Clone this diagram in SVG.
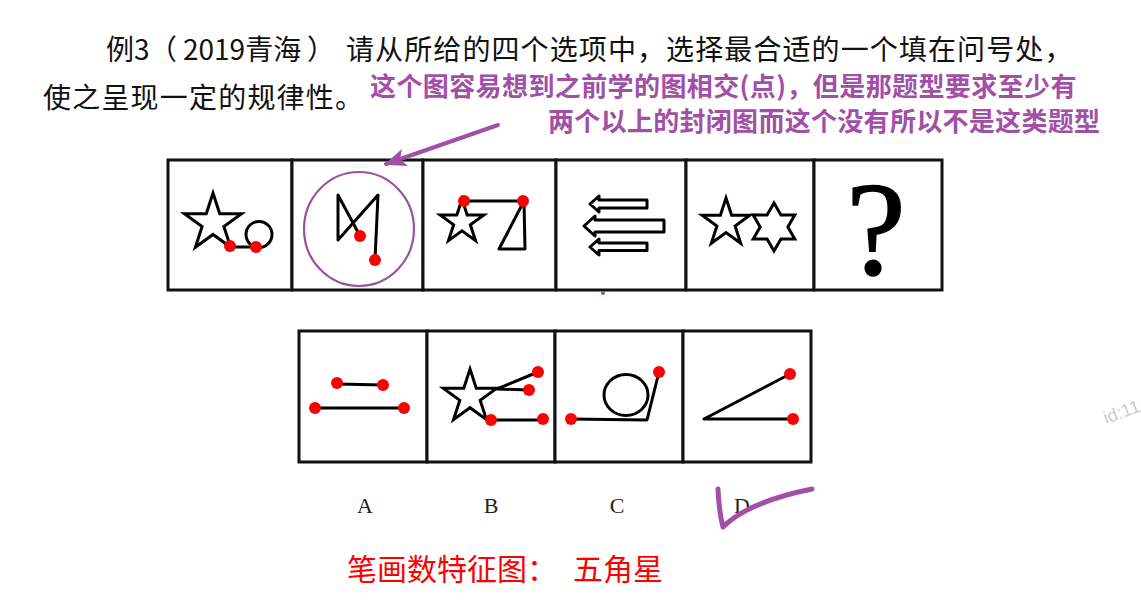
<svg xmlns="http://www.w3.org/2000/svg" xmlns:xlink="http://www.w3.org/1999/xlink" width="1141" height="602" viewBox="0 0 1141 602">
  <style>
    .box { fill: #ffffff; stroke: #111111; stroke-width: 3; }
    .fig { fill: none; stroke: #000000; stroke-width: 3; stroke-linejoin: round; stroke-linecap: round; }
    .figw { fill: #ffffff; stroke: #000000; stroke-width: 3; stroke-linejoin: miter; }
    .nss { vector-effect: non-scaling-stroke; }
    .dot { fill: #ff0000; }
    .cjk { font-family: "Noto Sans CJK SC", "Noto Sans", sans-serif; }
    .q { font-family: "Liberation Serif", serif; fill: #222222; font-size: 22px; text-anchor: middle; }
    .purple { fill: #a24fa8; font-weight: bold; font-size: 26px; }
  </style>
  <defs>
    <path id="star5" class="nss" d="M0,-100 L22.45,-30.90 L95.11,-30.90 L36.33,11.80 L58.78,80.90 L0,38.2 L-58.78,80.90 L-36.33,11.80 L-95.11,-30.90 L-22.45,-30.90 Z"/>
    <path id="star6" class="nss" d="M0,-100 L28.87,-50 L86.60,-50 L57.74,0 L86.60,50 L28.87,50 L0,100 L-28.87,50 L-86.60,50 L-57.74,0 L-86.60,-50 L-28.87,-50 Z"/>
    <marker id="arrowP" markerUnits="userSpaceOnUse" markerWidth="24" markerHeight="24" refX="20" refY="10" orient="auto" viewBox="0 0 24 20">
      <path d="M0,1 L22,10 L0,19 L5,10 Z" fill="#a24fa8"/>
    </marker>
  </defs>
  <rect width="1141" height="602" fill="#ffffff"/>

  <g id="title">
    <text class="cjk" y="60" font-size="28" fill="#111111"><tspan x="106">例3</tspan><tspan x="149">（</tspan><tspan x="183">2019青海</tspan><tspan x="307">）</tspan><tspan x="346" letter-spacing="1.1">请从所给的四个选项中，选择最合适的一个填在问号处，</tspan></text>
    <text class="cjk" x="43" y="108" font-size="28" letter-spacing="1.2" fill="#111111">使之呈现一定的规律性。</text>
  </g>

  <g id="note">
    <text class="cjk purple" x="370" y="96" letter-spacing="0.4">这个图容易想到之前学的图相交(点)，但是那题型要求至少有</text>
    <text class="cjk purple" x="548" y="131" letter-spacing="0.3">两个以上的封闭图而这个没有所以不是这类题型</text>
  </g>

  <g id="p1">
    <rect class="box" x="168" y="160" width="124" height="130"/>
    <use href="#star5" class="figw" transform="translate(213,223) scale(0.3)"/>
    <path class="fig" d="M231,247 L259,247"/>
    <circle class="fig" cx="259" cy="234.5" r="13"/>
    <circle class="dot" cx="230" cy="246" r="6"/>
    <circle class="dot" cx="256" cy="247" r="6"/>
  </g>

  <g id="p2">
    <rect class="box" x="292" y="160" width="131" height="130"/>
    <path class="fig" d="M360,236 L338,195 L338,240 L378,195 L375,260"/>
    <circle class="dot" cx="360" cy="236" r="6"/>
    <circle class="dot" cx="375" cy="260" r="6"/>
    <ellipse cx="359" cy="229" rx="55" ry="57" fill="none" stroke="#9c4fa4" stroke-width="2.2"/>
  </g>

  <g id="p3">
    <rect class="box" x="423" y="160" width="133" height="130"/>
    <use href="#star5" class="figw" transform="translate(462,222) scale(0.23)"/>
    <path class="fig" d="M464,201 L524,201"/>
    <path class="fig" d="M524,201 L525,249 L499,249 Z"/>
    <circle class="dot" cx="464" cy="201" r="6"/>
    <circle class="dot" cx="523" cy="201" r="6"/>
  </g>

  <g id="p4">
    <rect class="box" x="556" y="160" width="130" height="130"/>
    <path class="fig" d="M590,204 L599,196 L599,200 L647,200 L647,208 L599,208 L599,212 Z"/>
    <path class="fig" d="M584,226 L595,216 L595,220 L664,220 L664,232 L595,232 L595,236 Z"/>
    <path class="fig" d="M590,247 L599,239 L599,243 L647,243 L647,250.5 L599,250.5 L599,255 Z"/>
  </g>

  <g id="p5">
    <rect class="box" x="686" y="160" width="128" height="130"/>
    <use href="#star5" class="figw" transform="translate(726,223) scale(0.25)"/>
    <use href="#star6" class="figw" transform="translate(774,227) scale(0.24)"/>
  </g>

  <g id="p6">
    <rect class="box" x="814" y="160" width="128" height="130"/>
    <text x="876" y="274" font-family="Liberation Serif, serif" font-size="134" text-anchor="middle" fill="#000000" stroke="#000000" stroke-width="1.5">?</text>
  </g>

  <circle cx="603" cy="293" r="2" fill="#a24fa8"/>

  <g id="optA">
    <rect class="box" x="299" y="331" width="128" height="131"/>
    <path class="fig" d="M337,384 L383,385"/>
    <path class="fig" d="M315,408 L404,408"/>
    <circle class="dot" cx="337" cy="383" r="6"/>
    <circle class="dot" cx="383" cy="385" r="6"/>
    <circle class="dot" cx="315" cy="408" r="6"/>
    <circle class="dot" cx="404" cy="408" r="6"/>
  </g>

  <g id="optB">
    <rect class="box" x="427" y="331" width="128" height="131"/>
    <use href="#star5" class="figw" transform="translate(470,397) scale(0.28)"/>
    <path class="fig" d="M538,372 L497,389 L529,390"/>
    <path class="fig" d="M487,420 L543,420"/>
    <circle class="dot" cx="538" cy="372" r="6"/>
    <circle class="dot" cx="529" cy="390" r="6"/>
    <circle class="dot" cx="491" cy="420" r="6"/>
    <circle class="dot" cx="543" cy="419" r="6"/>
  </g>

  <g id="optC">
    <rect class="box" x="555" y="331" width="128" height="131"/>
    <ellipse class="fig" cx="626" cy="395" rx="22" ry="20.5"/>
    <path class="fig" d="M571,419 L647,420 L659,372"/>
    <circle class="dot" cx="571" cy="419" r="6"/>
    <circle class="dot" cx="659" cy="372" r="6"/>
  </g>

  <g id="optD">
    <rect class="box" x="683" y="331" width="128" height="131"/>
    <path class="fig" d="M790,374 L704,419 L793,419"/>
    <circle class="dot" cx="790" cy="374" r="6"/>
    <circle class="dot" cx="793" cy="419" r="6"/>
  </g>

  <g id="labels">
    <text class="q" x="365" y="513">A</text>
    <text class="q" x="491" y="513">B</text>
    <text class="q" x="617" y="513">C</text>
    <text class="q" x="742" y="513">D</text>
  </g>

  <g id="check">
    <path d="M718,489 Q719,512 723,527 Q748,502 812,489" fill="none" stroke="#a24fa8" stroke-width="5" stroke-linecap="round" stroke-linejoin="round"/>
  </g>

  <g id="caption">
    <text class="cjk" x="347" y="580" font-size="30" fill="#ff0000">笔画数特征图：<tspan x="573">五角星</tspan></text>
  </g>

  <text x="1106" y="424" font-family="Liberation Sans, sans-serif" font-size="18" fill="#cccccc" transform="rotate(-20 1106 424)">id:11</text>

  <g id="connectors">
    <path d="M498,125 L386,164" fill="none" stroke="#a24fa8" stroke-width="4" stroke-linecap="round" marker-end="url(#arrowP)"/>
  </g>
</svg>
